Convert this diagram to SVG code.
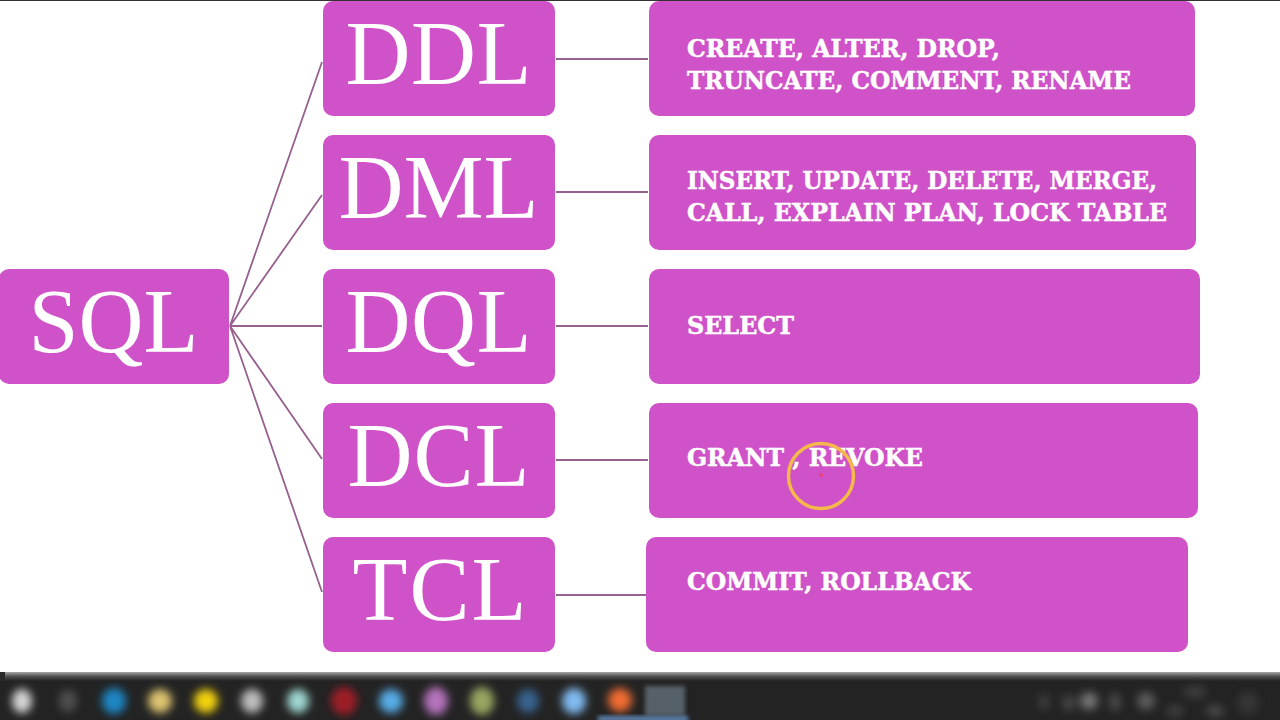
<svg xmlns="http://www.w3.org/2000/svg" width="1280" height="720" viewBox="0 0 1280 720">
<style>
.b{fill:#d052c8}
.big{font-family:"Liberation Serif","DejaVu Serif",serif;font-size:90px;fill:#fff;text-anchor:middle}
.sm{font-family:"DejaVu Serif","Liberation Serif",serif;font-weight:700;font-size:24px;fill:#fff;stroke:#fff;stroke-width:.5px}
.c{stroke:#96608f;stroke-width:1.8;fill:none}
</style>
<defs>
<filter id="bl" x="-60%" y="-60%" width="220%" height="220%"><feGaussianBlur stdDeviation="4"/></filter>
<filter id="bs" x="-30%" y="-30%" width="160%" height="160%"><feGaussianBlur stdDeviation="2"/></filter>
<linearGradient id="tb" x1="0" y1="0" x2="0" y2="1"><stop offset="0" stop-color="#a8a8a8"/><stop offset="0.45" stop-color="#555"/><stop offset="1" stop-color="#232323"/></linearGradient>
</defs>
<rect width="1280" height="720" fill="#fff"/>
<rect width="1280" height="1" fill="#333"/>
<g id="connectors" class="c">
<path d="M230 326L322 62M230 326L322 195M230 326H322M230 326L322 459M230 326L322 592"/>
<path d="M556 59H648M556 192H648M556 326H648M556 460H648M556 595H646"/>
</g>
<g id="sql"><rect class="b" x="-1" y="269" width="230" height="115" rx="10"/><text class="big" x="113.500" y="352" textLength="170" lengthAdjust="spacing">SQL</text></g>
<g id="ddl"><rect class="b" x="323" y="1" width="232" height="115" rx="10"/><text class="big" x="438.500" y="84" textLength="186" lengthAdjust="spacing">DDL</text></g>
<g id="dml"><rect class="b" x="323" y="135" width="232" height="115" rx="10"/><text class="big" x="438.500" y="218" textLength="200" lengthAdjust="spacingAndGlyphs">DML</text></g>
<g id="dql"><rect class="b" x="323" y="269" width="232" height="115" rx="10"/><text class="big" x="438.500" y="352" textLength="186" lengthAdjust="spacing">DQL</text></g>
<g id="dcl"><rect class="b" x="323" y="403" width="232" height="115" rx="10"/><text class="big" x="438.500" y="486" textLength="182" lengthAdjust="spacing">DCL</text></g>
<g id="tcl"><rect class="b" x="323" y="537" width="232" height="115" rx="10"/><text class="big" x="439.500" y="620" textLength="174" lengthAdjust="spacing">TCL</text></g>
<g id="ddl-items"><rect class="b" x="649" y="1" width="546" height="115" rx="10"/><text class="sm" x="687" y="57" textLength="313" lengthAdjust="spacingAndGlyphs">CREATE, ALTER, DROP,</text><text class="sm" x="687" y="89" textLength="444" lengthAdjust="spacingAndGlyphs">TRUNCATE, COMMENT, RENAME</text></g>
<g id="dml-items"><rect class="b" x="649" y="135" width="547" height="115" rx="10"/><text class="sm" x="687" y="189" textLength="470" lengthAdjust="spacingAndGlyphs">INSERT, UPDATE, DELETE, MERGE,</text><text class="sm" x="687" y="221" textLength="480" lengthAdjust="spacingAndGlyphs">CALL, EXPLAIN PLAN, LOCK TABLE</text></g>
<g id="dql-items"><rect class="b" x="649" y="269" width="551" height="115" rx="10"/><text class="sm" x="687" y="334" textLength="107" lengthAdjust="spacingAndGlyphs">SELECT</text></g>
<g id="dcl-items"><rect class="b" x="649" y="403" width="549" height="115" rx="10"/><text class="sm" x="687" y="466" textLength="236" lengthAdjust="spacingAndGlyphs">GRANT , REVOKE</text></g>
<g id="tcl-items"><rect class="b" x="646" y="537" width="542" height="115" rx="10"/><text class="sm" x="687" y="590" textLength="284" lengthAdjust="spacingAndGlyphs">COMMIT, ROLLBACK</text></g>
<g id="cursor"><circle cx="821" cy="476" r="32.500" fill="none" stroke="#f5b84a" stroke-width="3.500"/><circle cx="821" cy="475" r="2" fill="#e8447a"/></g>
<g id="taskbar">
<rect y="672" width="1280" height="48" fill="#232323"/>
<rect x="5" y="672" width="1275" height="9" fill="url(#tb)"/>
<rect x="0" y="672" width="5" height="9" fill="#2a2a2a"/>
<g filter="url(#bl)">
<ellipse cx="22" cy="701" rx="10" ry="12" fill="#d6d6d6"/>
<ellipse cx="68" cy="701" rx="9" ry="11" fill="#505050"/>
<ellipse cx="114" cy="701" rx="12" ry="13" fill="#1d86c4"/>
<ellipse cx="160" cy="701" rx="12" ry="12" fill="#dcc270"/>
<ellipse cx="206" cy="701" rx="12" ry="12" fill="#f2d210"/>
<ellipse cx="252" cy="701" rx="11" ry="12" fill="#bcbcbc"/>
<ellipse cx="298" cy="701" rx="11" ry="12" fill="#9fd6d0"/>
<ellipse cx="344" cy="701" rx="13" ry="14" fill="#9c1f28"/>
<ellipse cx="391" cy="701" rx="12" ry="12" fill="#56ace6"/>
<ellipse cx="436" cy="701" rx="12" ry="14" fill="#b472bc"/>
<ellipse cx="482" cy="701" rx="12" ry="14" fill="#96a660"/>
<ellipse cx="528" cy="701" rx="11" ry="12" fill="#37628e"/>
<ellipse cx="574" cy="701" rx="12" ry="13" fill="#80baf0"/>
<ellipse cx="620" cy="700" rx="12" ry="12" fill="#f06c30"/>
<ellipse cx="1044" cy="702" rx="6" ry="8" fill="#3e3e3e"/>
<ellipse cx="1069" cy="703" rx="7" ry="8" fill="#444"/>
<ellipse cx="1089" cy="701" rx="9" ry="9" fill="#737373"/>
<ellipse cx="1115" cy="702" rx="6" ry="9" fill="#484848"/>
<ellipse cx="1146" cy="701" rx="9" ry="9" fill="#5c5c5c"/>
<ellipse cx="1195" cy="692" rx="12" ry="6" fill="#3e3e3e"/>
<ellipse cx="1175" cy="711" rx="9" ry="6" fill="#3e3e3e"/>
<ellipse cx="1215" cy="711" rx="9" ry="6" fill="#484848"/>
<ellipse cx="1248" cy="703" rx="11" ry="11" fill="#363636"/>
</g>
<rect x="645" y="686" width="40" height="30" fill="#566068" filter="url(#bs)"/>
<rect x="598" y="716" width="90" height="6" fill="#5f83b0" filter="url(#bs)"/>
</g>
</svg>
